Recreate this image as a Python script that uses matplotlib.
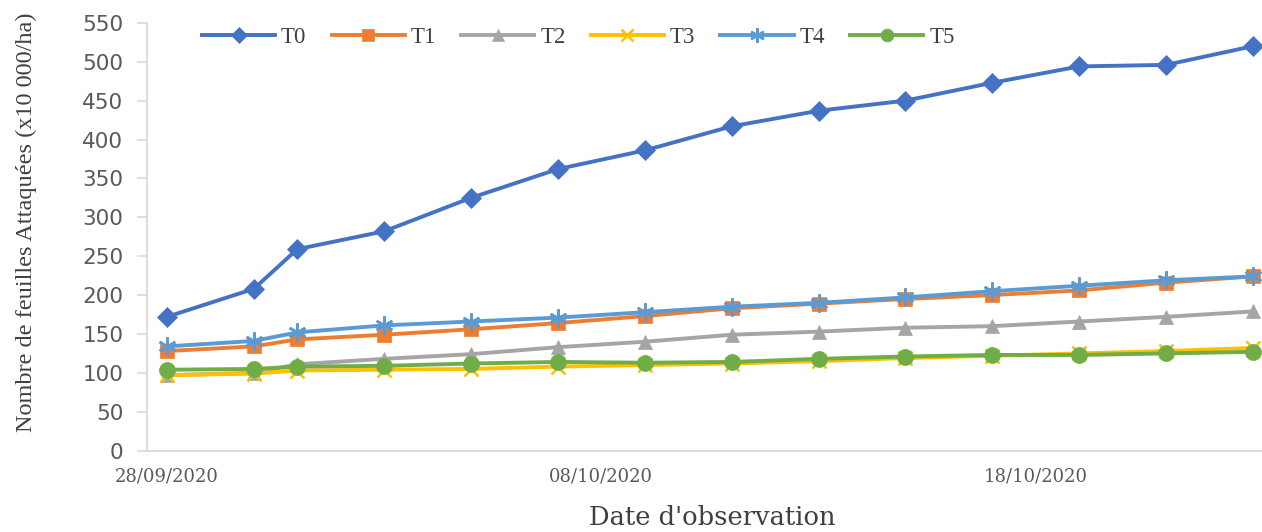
import pandas as pd
import matplotlib
matplotlib.use("Agg")
import matplotlib.pyplot as plt
import matplotlib.dates as mdates

# ---------------- DATA ----------------
obs_dates = ["28/09/2020", "30/09/2020", "01/10/2020", "03/10/2020", "05/10/2020",
             "07/10/2020", "09/10/2020", "11/10/2020", "13/10/2020", "15/10/2020",
             "17/10/2020", "19/10/2020", "21/10/2020", "23/10/2020"]
tick_dates = ["28/09/2020", "08/10/2020", "18/10/2020"]

t0 = [172, 208, 259, 282, 325, 362, 386, 417, 437, 450, 473, 494, 496, 520]
t1 = [128, 134, 143, 149, 156, 164, 173, 183, 189, 195, 200, 206, 216, 224]
t2 = [97, 100, 111, 118, 124, 133, 140, 149, 153, 158, 160, 166, 172, 179]
t3 = [97, 99, 103, 104, 105, 108, 110, 112, 115, 119, 122, 125, 128, 132]
t4 = [134, 141, 152, 161, 166, 171, 178, 185, 190, 197, 205, 212, 219, 224]
t5 = [104, 105, 108, 109, 112, 114, 113, 114, 118, 121, 123, 123, 125, 127]

series_names = ["T0", "T1", "T2", "T3", "T4", "T5"]
series_values = [t0, t1, t2, t3, t4, t5]

# ---------------- STYLE ----------------
colors = ["#4472C4", "#ED7D31", "#A5A5A5", "#FFC000", "#5B9BD5", "#70AD47"]
markers = ["D", "s", "^", "x", (6, 2, 0), "o"]
msizes = [10, 10.5, 10.5, 10, 13, 11.5]

x = pd.to_datetime(obs_dates, dayfirst=True)
xt = pd.to_datetime(tick_dates, dayfirst=True)

fig = plt.figure(figsize=(12.62, 5.32), dpi=100)
ax = fig.add_axes([0.1165, 0.153, 0.8835, 0.804])

for name, vals, c, m, ms in zip(series_names, series_values, colors, markers, msizes):
    line_only = m in ("x", (6, 2, 0))
    ax.plot(x, vals, color=c, lw=2.8, marker=m, ms=ms,
            markerfacecolor=c, markeredgecolor=c,
            markeredgewidth=1.8 if line_only else 0.5,
            label=name, solid_joinstyle="round")

# ---------------- AXES ----------------
ax.set_ylim(0, 550)
ax.set_yticks(range(0, 551, 50))
ax.set_xlim(x[0] - pd.Timedelta(hours=11), x[-1] + pd.Timedelta(hours=5))
ax.set_xticks(xt)
ax.xaxis.set_major_formatter(mdates.DateFormatter("%d/%m/%Y"))

for side in ("top", "right"):
    ax.spines[side].set_visible(False)
for side in ("left", "bottom"):
    ax.spines[side].set_color("#D9D9D9")
    ax.spines[side].set_linewidth(1.3)

ax.tick_params(axis="y", length=7, width=1.2, color="#D9D9D9", pad=10,
               labelsize=15.5, labelcolor="#595959")
ax.tick_params(axis="x", length=0, pad=12, labelsize=13, labelcolor="#595959")
for lab in ax.get_yticklabels():
    lab.set_fontfamily("DejaVu Sans")
for lab in ax.get_xticklabels():
    lab.set_fontfamily("DejaVu Serif")

fig.text(0.021, 0.583, "Nombre de feuilles Attaquées (x10 000/ha)", rotation=90,
         ha="center", va="center", fontsize=17.5, family="Liberation Serif",
         color="#404040")
fig.text(0.564, 0.028, "Date d'observation", ha="center", va="center",
         fontsize=18.5, family="DejaVu Serif", color="#404040")

leg = ax.legend(loc="center left", bbox_to_anchor=(0.160, 0.930),
                bbox_transform=fig.transFigure, ncol=6, frameon=False,
                handlelength=3.2, handletextpad=0.25, columnspacing=1.1,
                borderpad=0, borderaxespad=0, markerscale=0.8,
                prop={"family": "Liberation Serif", "size": 16.5})
for txt in leg.get_texts():
    txt.set_color("#404040")

fig.savefig("out.png", dpi=100)
